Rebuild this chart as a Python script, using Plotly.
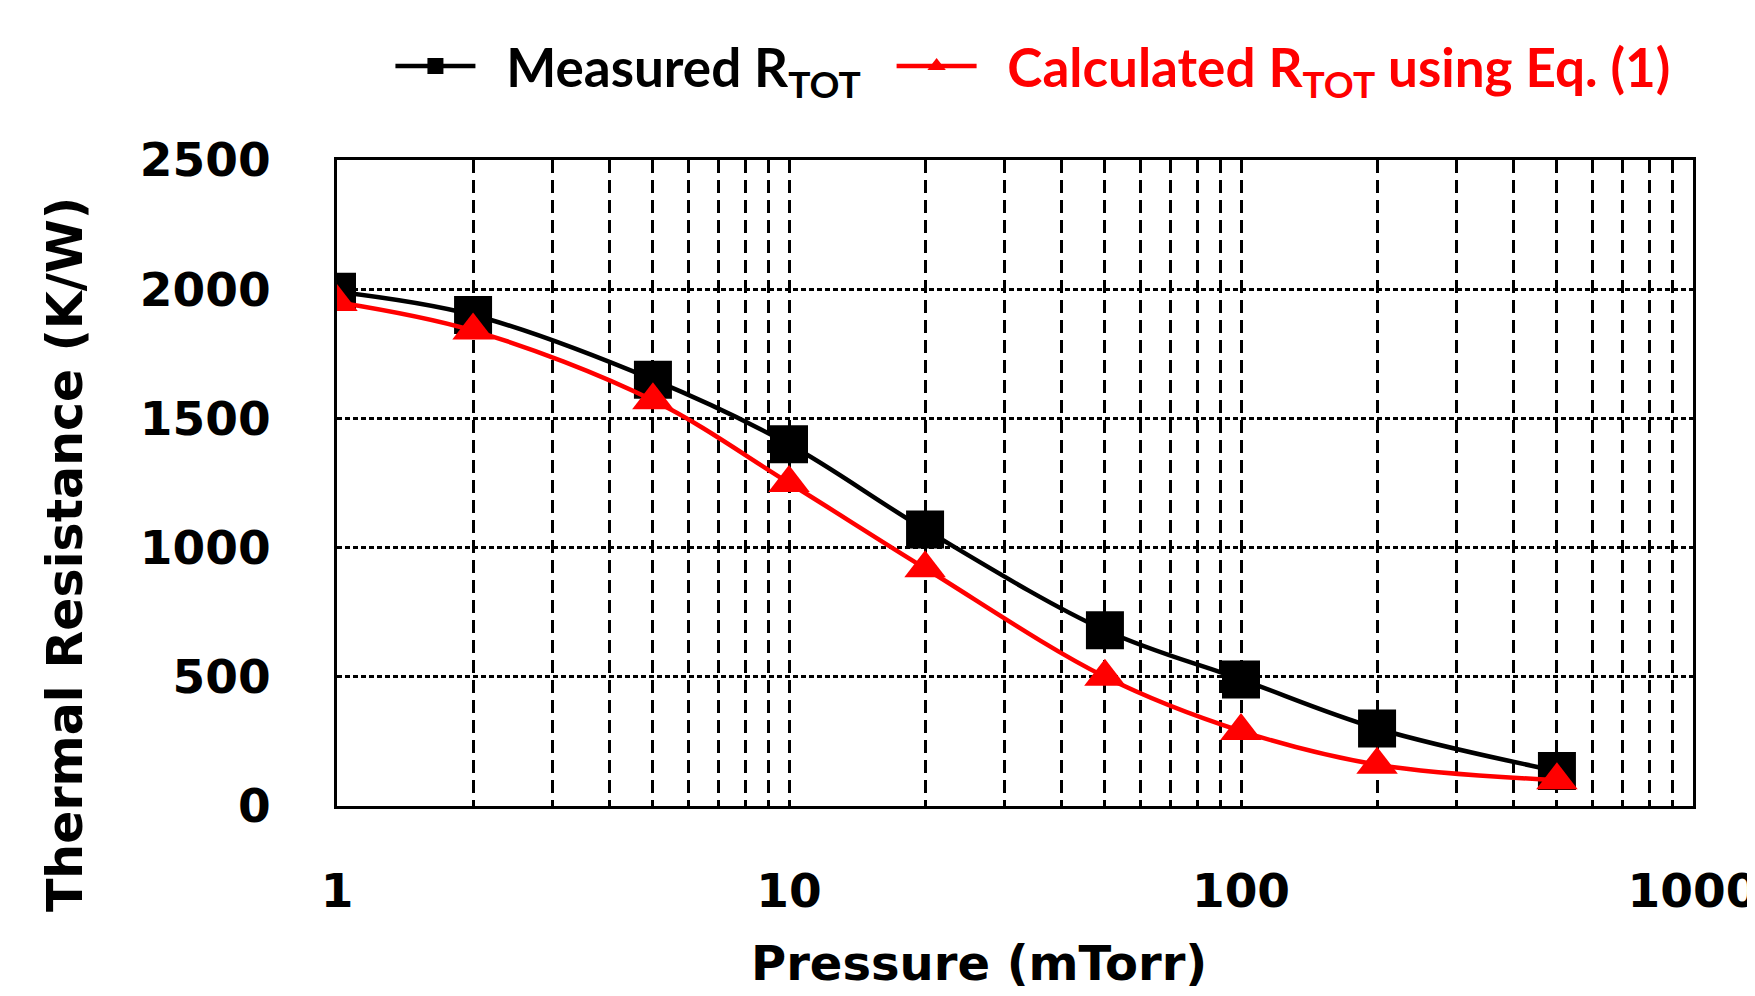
import plotly.graph_objects as go

pressure = [1, 2, 5, 10, 20, 50, 100, 200, 500]
measured = [1990, 1900, 1650, 1400, 1070, 680, 490, 300, 135]
calculated = [1950, 1840, 1570, 1250, 920, 500, 290, 160, 100]

x_tickvals = [1, 10, 100, 1000]
x_ticktext = ["1", "10", "100", "1000"]
x_minor = [2, 3, 4, 5, 6, 7, 8, 9, 20, 30, 40, 50, 60, 70, 80, 90,
           200, 300, 400, 500, 600, 700, 800, 900]
y_tickvals = [0, 500, 1000, 1500, 2000, 2500]

x_title = "Pressure (mTorr)"
y_title = "Thermal Resistance (K/W)"
name_measured = "\u00a0\u00a0Measured R<sub>TOT</sub>\u00a0\u00a0"
name_calc = "<span style='color:#ff0000'>\u00a0\u00a0Calculated R<sub>TOT</sub> using Eq. (1)</span>"

LEG_FONT = "Lato"
AX_FONT = "DejaVu Sans"

fig = go.Figure()
fig.add_trace(go.Scatter(
    x=pressure, y=measured, mode="lines+markers",
    name=name_measured,
    line=dict(color="black", width=4.5, shape="spline"),
    marker=dict(symbol="square", size=38, color="black"),
))
fig.add_trace(go.Scatter(
    x=pressure, y=calculated, mode="lines+markers",
    name=name_calc,
    line=dict(color="#ff0000", width=4.5, shape="spline"),
    marker=dict(symbol="triangle-up", size=36, color="#ff0000"),
))

fig.update_layout(
    width=1755, height=996,
    margin=dict(l=329, r=70, t=152, b=198, autoexpand=False),
    paper_bgcolor="white", plot_bgcolor="white",
    font=dict(family=AX_FONT, size=47, color="black", weight="bold"),
    showlegend=True,
    legend=dict(
        orientation="h", x=0.0394, xanchor="left",
        yref="container", y=0.9417, yanchor="middle",
        font=dict(family=LEG_FONT, size=53, color="black", weight="bold"),
        itemwidth=80, bgcolor="rgba(0,0,0,0)",
    ),
    annotations=[
        dict(text=y_title, xref="paper", yref="paper", x=-0.2003, y=0.389,
             xanchor="center", yanchor="middle", textangle=-90, showarrow=False,
             font=dict(family=AX_FONT, size=49, color="black", weight="bold")),
        dict(text=x_title, xref="paper", yref="paper", x=0.4735, y=-0.243,
             xanchor="center", yanchor="middle", showarrow=False,
             font=dict(family=AX_FONT, size=48, color="black", weight="bold")),
    ],
)

fig.update_xaxes(
    type="log", range=[0, 3],
    tickvals=x_tickvals, ticktext=x_ticktext,
    showline=True, linecolor="black", linewidth=3, mirror=True,
    showgrid=True, gridcolor="black", gridwidth=2.5, griddash="13px,7px",
    ticks="", ticklabelstandoff=42, ticklabeloverflow="allow", automargin=False,
    tickfont=dict(family=AX_FONT, size=47, weight="bold"),
    minor=dict(tickvals=x_minor, showgrid=True, gridcolor="black",
               gridwidth=2.5, griddash="13px,7px", ticks=""),
    zeroline=False,
)
fig.update_yaxes(
    range=[0, 2500], tickvals=y_tickvals,
    showline=True, linecolor="black", linewidth=3, mirror=True,
    showgrid=True, gridcolor="black", gridwidth=2.5, griddash="5px,3px",
    ticks="", ticklabelstandoff=54, automargin=False,
    tickfont=dict(family=AX_FONT, size=47, weight="bold"),
    zeroline=False,
)

fig.write_html("out.html")
